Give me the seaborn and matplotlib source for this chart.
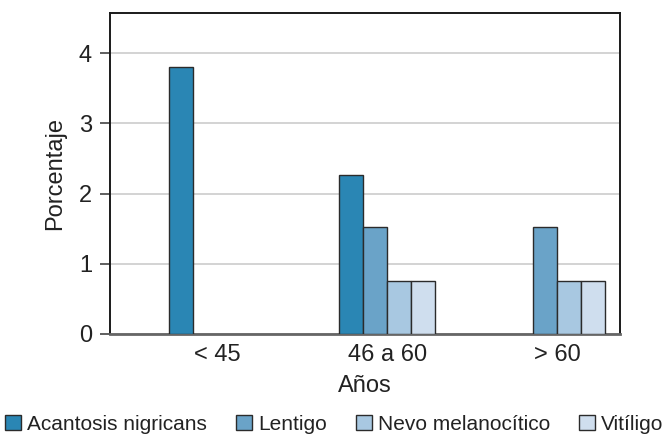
import matplotlib
matplotlib.use("Agg")
import matplotlib.pyplot as plt
import seaborn as sns
import pandas as pd
from matplotlib.patches import Patch

categories = ["< 45", "46 a 60", "> 60"]
series = ["Acantosis nigricans", "Lentigo", "Nevo melanocítico", "Vitíligo"]
acantosis = [3.80, 2.27, None]
lentigo = [None, 1.52, 1.53]
nevo = [None, 0.75, 0.75]
vitiligo = [None, 0.75, 0.75]
colors = ["#2a86b4", "#6aa3c8", "#a8c8e1", "#cfdeee"]
yticks = [0, 1, 2, 3, 4]

rows = []
for name, vals in zip(series, [acantosis, lentigo, nevo, vitiligo]):
    for cat, v in zip(categories, vals):
        if v is not None:
            rows.append({"Años": cat, "Serie": name, "Porcentaje": v})
df = pd.DataFrame(rows)

sns.set_style("white")
plt.rcParams["font.family"] = ["Liberation Sans", "DejaVu Sans"]

fig = plt.figure(figsize=(6.69, 4.34), dpi=100)
ax = fig.add_axes([110/669, 1-334/434, 510/669, 321/434])

sns.barplot(data=df, x="Años", y="Porcentaje", hue="Serie",
            order=categories, hue_order=series, palette=colors,
            width=0.565, gap=0, edgecolor="#2b2b2b", linewidth=1.0,
            saturation=1, ax=ax, legend=False, zorder=3)

ax.set_xlim(-0.63, 2.37)
ax.set_ylim(0, 4.57)
ax.set_yticks(yticks)
ax.yaxis.grid(True, color="#cccccc", linewidth=1.2, zorder=0)
ax.set_axisbelow(True)

for s in ["left", "top", "right"]:
    ax.spines[s].set_color("#1a1a1a")
    ax.spines[s].set_linewidth(1.4)
ax.spines["bottom"].set_color("#666666")
ax.spines["bottom"].set_linewidth(2.0)

ax.tick_params(axis="y", which="both", left=True, length=7, width=1.2,
               color="#444444", labelsize=17, pad=6, labelcolor="#222222")
ax.tick_params(axis="x", bottom=False, labelsize=17, pad=4, labelcolor="#222222")

ax.set_xlabel("Años", fontsize=17, color="#222222", labelpad=6)
ax.set_ylabel("Porcentaje", fontsize=17, color="#222222", labelpad=9)

handles = [Patch(facecolor=c, edgecolor="#2b2b2b", linewidth=1.0) for c in colors]
fig.legend(handles, series, ncol=4, loc="center", bbox_to_anchor=(0.5, 1-424/434),
           frameon=False, fontsize=15, handlelength=0.75, handleheight=0.75,
           handletextpad=0.3, columnspacing=1.4, borderpad=0, labelcolor="#222222")

fig.savefig("out.png", dpi=100)
